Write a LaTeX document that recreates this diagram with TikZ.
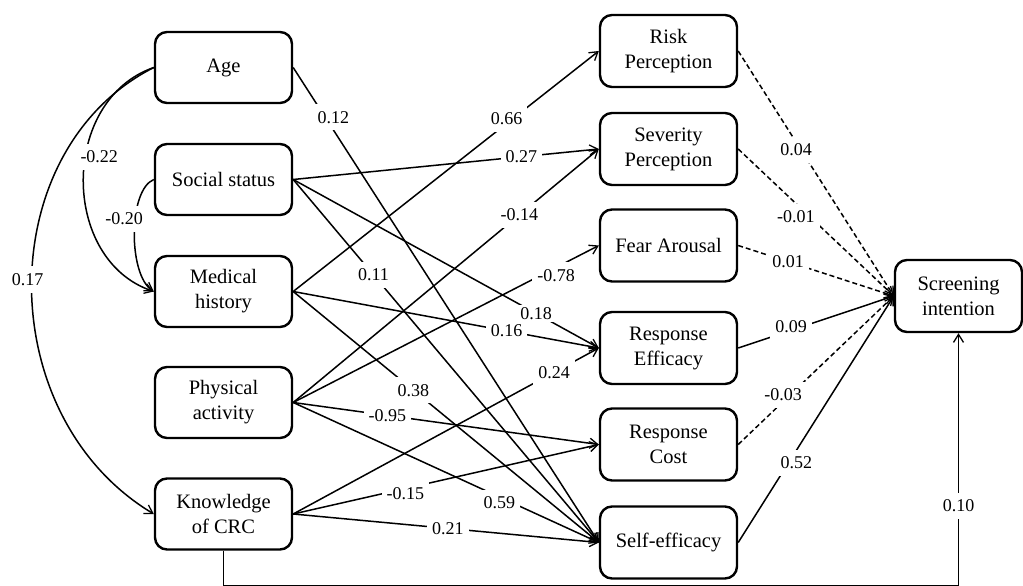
\documentclass[tikz,border=0pt]{standalone}
\usepackage{fontspec}
\setmainfont{Liberation Serif}
\usetikzlibrary{arrows.meta,calc}
\begin{document}
\begin{tikzpicture}[x=1pt,y=-1pt,
 box/.style={draw,line width=2.4pt,rounded corners=12pt,minimum width=137pt,minimum height=71pt,inner sep=0pt,align=center,font=\fontsize{20.5}{25}\selectfont},
 mbox/.style={box,minimum height=72pt},
 conn/.style={line width=1.5pt,-{Straight Barb[length=8pt,width=10pt,line width=1.3pt]}},
 dsh/.style={conn,dash pattern=on 5pt off 3pt},
 lbl/.style={fill=white,inner xsep=5pt,inner ysep=7pt,font=\fontsize{18}{20}\selectfont}]
\useasboundingbox (0,0) rectangle (1023,586);

% left boxes
\node[box] (age)  at (223.5,67.5)  {Age};
\node[box] (soc)  at (223.5,179.5) {Social status};
\node[box] (med)  at (223.5,291.5) {Medical\\history};
\node[box] (phys) at (223.5,402.5) {Physical\\activity};
\node[box] (know) at (223.5,514)   {Knowledge\\of CRC};

% middle boxes
\node[mbox] (risk) at (668.5,51)    {Risk\\Perception};
\node[mbox] (sev)  at (668.5,149)   {Severity\\Perception};
\node[mbox] (fear) at (668.5,245.5) {Fear Arousal};
\node[mbox] (re)   at (668.5,348)   {Response\\Efficacy};
\node[mbox] (rc)   at (668.5,444.5) {Response\\Cost};
\node[mbox] (se)   at (668.5,542.5) {Self-efficacy};

% outcome
\node[mbox,minimum width=127pt] (scr) at (958.5,296) {Screening\\intention};

% covariance curves
\draw[conn] (age.west) .. controls (60,100) and (60,260) .. (med.west);
\draw[conn] (soc.west) .. controls (128,190) and (128,275) .. (med.west);
\draw[conn] (age.west) .. controls (-9,150) and (-9,416) .. (know.west);

% paths to mediators
\draw[conn] (age.east) -- (se.west);
\draw[conn] (soc.east) -- (sev.west);
\draw[conn] (soc.east) -- (re.west);
\draw[conn] (soc.east) -- (se.west);
\draw[conn] (med.east) -- (risk.west);
\draw[conn] (med.east) -- (re.west);
\draw[conn] (med.east) -- (se.west);
\draw[conn] (phys.east) -- (sev.west);
\draw[conn] (phys.east) -- (fear.west);
\draw[conn] (phys.east) -- (rc.west);
\draw[conn] (phys.east) -- (se.west);
\draw[conn] (know.east) -- (re.west);
\draw[conn] (know.east) -- (rc.west);
\draw[conn] (know.east) -- (se.west);

% paths to outcome
\draw[dsh] (risk.east) -- (scr.west);
\draw[dsh] (sev.east) -- (scr.west);
\draw[dsh] (fear.east) -- (scr.west);
\draw[conn] (re.east) -- (scr.west);
\draw[dsh] (rc.east) -- (scr.west);
\draw[conn] (se.east) -- (scr.west);

% direct path
\draw[conn] (know.south) -- ++(0,35) coordinate (kb) -| (scr.south);

% labels
\path (age.west) .. controls (60,100) and (60,260) .. (med.west) node[lbl,pos=0.42,xshift=14pt] {-0.22};
\path (soc.west) .. controls (128,190) and (128,275) .. (med.west) node[lbl,pos=0.4,xshift=-11pt] {-0.20};
\path (age.west) .. controls (-9,150) and (-9,416) .. (know.west) node[lbl,pos=0.49,xshift=-4pt] {0.17};

\path (age.east) -- (se.west) node[lbl,pos=0.105,xshift=8pt] {0.12};
\path (soc.east) -- (sev.west) node[lbl,pos=0.747] {0.27};
\path (soc.east) -- (re.west) node[lbl,inner ysep=2pt,pos=0.795] {0.18};
\path (soc.east) -- (se.west) node[lbl,pos=0.263] {0.11};
\path (med.east) -- (risk.west) node[lbl,pos=0.698,yshift=5pt] {0.66};
\path (med.east) -- (re.west) node[lbl,inner ysep=2pt,pos=0.698] {0.16};
\path (med.east) -- (se.west) node[lbl,pos=0.393] {0.38};
\path (phys.east) -- (sev.west) node[lbl,pos=0.74] {-0.14};
\path (phys.east) -- (fear.west) node[lbl,pos=0.86,yshift=-8pt] {-0.78};
\path (phys.east) -- (rc.west) node[lbl,pos=0.308] {-0.95};
\path (phys.east) -- (se.west) node[lbl,pos=0.675,yshift=-6pt] {0.59};
\path (know.east) -- (re.west) node[lbl,pos=0.854] {0.24};
\path (know.east) -- (rc.west) node[lbl,pos=0.367,yshift=-5pt] {-0.15};
\path (know.east) -- (se.west) node[lbl,pos=0.506] {0.21};

\path (risk.east) -- (scr.west) node[lbl,pos=0.404,xshift=-5pt] {0.04};
\path (sev.east) -- (scr.west) node[lbl,pos=0.46,xshift=-14pt] {-0.01};
\path (fear.east) -- (scr.west) node[lbl,pos=0.32] {0.01};
\path (re.east) -- (scr.west) node[lbl,pos=0.34,yshift=4pt] {0.09};
\path (rc.east) -- (scr.west) node[lbl,pos=0.333,xshift=-7pt] {-0.03};
\path (se.east) -- (scr.west) node[lbl,pos=0.3225,xshift=8pt] {0.52};
\path (kb) -| (scr.south) node[lbl,pos=0.658] {0.10};
\end{tikzpicture}
\end{document}
